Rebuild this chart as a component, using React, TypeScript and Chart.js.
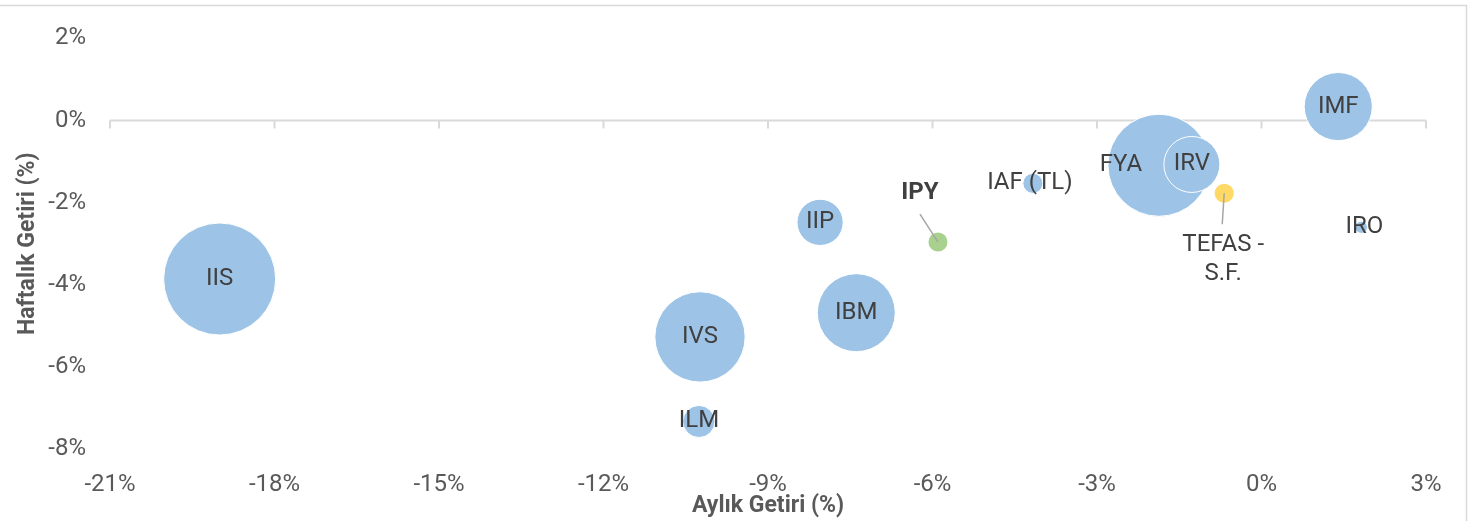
import React, { useEffect, useRef } from "react";
import { Chart, registerables } from "chart.js";

Chart.register(...registerables);

const FONT = "Roboto, 'Liberation Sans', sans-serif";

// Funds (blue bubbles)
const fundNames = ["IIS", "IVS", "ILM", "IBM", "IIP", "IAF (TL)", "FYA", "IRV", "IMF", "IRO"];
const fundMonthly = [-19.0, -10.24, -10.26, -7.39, -8.05, -4.17, -1.87, -1.27, 1.4, 1.82];
const fundWeekly = [-3.86, -5.27, -7.33, -4.68, -2.48, -1.53, -1.09, -1.07, 0.34, -2.6];
const fundSize = [100, 65, 8.2, 48.5, 17, 3.2, 83, 25, 37, 1.2];

// Highlighted fund (green)
const ipyNames = ["IPY"];
const ipyMonthly = [-5.9];
const ipyWeekly = [-2.96];
const ipySize = [2.9];

// Benchmark (yellow)
const benchNames = ["TEFAS - S.F."];
const benchMonthly = [-0.68];
const benchWeekly = [-1.77];
const benchSize = [2.9];

const xMin = -21, xMax = 3, xStep = 3;
const yMin = -8, yMax = 2, yStep = 2;
const xTitle = "Aylık Getiri (%)";
const yTitle = "Haftalık Getiri (%)";

const MAX_SIZE = 100;
const MAX_R = 56;
const radius = (s: number) => MAX_R * Math.sqrt(s / MAX_SIZE);

const toPoints = (xs: number[], ys: number[], ss: number[]) =>
  xs.map((x, i) => ({ x, y: ys[i], r: radius(ss[i]) }));

// label placement styles (offsets in px from bubble centre)
const labelStyle: Record<string, { dx?: number; dy?: number; bold?: boolean; lines?: string[]; leader?: [number, number, number, number] }> = {
  FYA: { dx: -38, dy: 0 },
  IPY: { dx: -18, dy: -49, bold: true, leader: [-18, -28, 0, 0] },
  "TEFAS - S.F.": { dx: -1, dy: 52, lines: ["TEFAS -", "S.F."], leader: [-2, 31, 0, 0] },
  "IAF (TL)": { dx: -3, dy: 0 },
  IRO: { dx: 3, dy: 0 },
};

const frameAndLabels = {
  id: "frameAndLabels",
  beforeDatasetsDraw(chart: any) {
    const { ctx, chartArea, scales } = chart;
    const xs = scales.x, ys = scales.y;
    ctx.save();
    // outer frame
    ctx.strokeStyle = "#D9D9D9";
    ctx.lineWidth = 1.5;
    ctx.beginPath();
    ctx.moveTo(0, 5.5);
    ctx.lineTo(1466.5, 5.5);
    ctx.lineTo(1466.5, chart.height);
    ctx.stroke();
    // horizontal axis line at y = 0
    const y0 = ys.getPixelForValue(0);
    ctx.lineWidth = 2;
    ctx.beginPath();
    ctx.moveTo(chartArea.left, y0);
    ctx.lineTo(chartArea.right, y0);
    for (let v = xMin; v <= xMax; v += xStep) {
      const px = xs.getPixelForValue(v);
      ctx.moveTo(px, y0);
      ctx.lineTo(px, y0 + 8);
    }
    ctx.stroke();
    ctx.restore();
  },
  afterDatasetsDraw(chart: any) {
    const { ctx } = chart;
    ctx.save();
    ctx.textAlign = "center";
    ctx.textBaseline = "middle";
    chart.data.datasets.forEach((ds: any, di: number) => {
      const meta = chart.getDatasetMeta(di);
      meta.data.forEach((el: any, i: number) => {
        const name = ds.names[i];
        const st = labelStyle[name] || {};
        const cx = el.x, cy = el.y;
        if (st.leader) {
          ctx.strokeStyle = "#A6A6A6";
          ctx.lineWidth = 1.5;
          ctx.beginPath();
          ctx.moveTo(cx + st.leader[0], cy + st.leader[1]);
          ctx.lineTo(cx + st.leader[2], cy + st.leader[3]);
          ctx.stroke();
        }
        ctx.fillStyle = "#404040";
        ctx.font = `${st.bold ? "bold " : ""}24px ${FONT}`;
        const lines = st.lines || [name];
        lines.forEach((ln, li) => {
          ctx.fillText(ln, cx + (st.dx || 0), cy + (st.dy || 0) + li * 29);
        });
      });
    });
    ctx.restore();
  },
};

export default function App() {
  const ref = useRef<HTMLCanvasElement | null>(null);
  useEffect(() => {
    if (!ref.current) return;
    const chart = new Chart(ref.current, {
      type: "bubble",
      data: {
        datasets: [
          {
            label: "Fonlar",
            names: fundNames,
            data: toPoints(fundMonthly, fundWeekly, fundSize),
            backgroundColor: "#9DC3E6",
            borderColor: "#FFFFFF",
            borderWidth: 1,
            order: 3,
          } as any,
          {
            label: "IPY",
            names: ipyNames,
            data: toPoints(ipyMonthly, ipyWeekly, ipySize),
            backgroundColor: "#A9D18E",
            borderColor: "#A9D18E",
            borderWidth: 0,
            order: 2,
          } as any,
          {
            label: "TEFAS",
            names: benchNames,
            data: toPoints(benchMonthly, benchWeekly, benchSize),
            backgroundColor: "#FFD966",
            borderColor: "#FFD966",
            borderWidth: 0,
            order: 1,
          } as any,
        ],
      },
      options: {
        responsive: false,
        animation: false,
        devicePixelRatio: 1,
        clip: false as any,
        layout: { autoPadding: false, padding: { left: 0, right: 55, top: 37, bottom: 0 } },
        plugins: {
          legend: { display: false },
          tooltip: { enabled: false },
        },
        scales: {
          x: {
            type: "linear",
            min: xMin,
            max: xMax,
            grid: { display: false, drawTicks: false },
            border: { display: false },
            ticks: {
              stepSize: xStep,
              padding: 22,
              color: "#595959",
              font: { family: FONT, size: 24 },
              callback: (v: any) => `${v}%`,
            },
            title: {
              display: true,
              text: xTitle,
              color: "#595959",
              font: { family: FONT, size: 23, weight: "bold" },
              padding: { top: 0, bottom: 1 },
            },
            afterFit: (s: any) => { s.height = 72; },
          },
          y: {
            type: "linear",
            min: yMin,
            max: yMax,
            grid: { display: false, drawTicks: false },
            border: { display: false },
            ticks: {
              stepSize: yStep,
              padding: 24,
              color: "#595959",
              font: { family: FONT, size: 24 },
              callback: (v: any) => `${v}%`,
            },
            title: {
              display: true,
              text: yTitle,
              color: "#595959",
              font: { family: FONT, size: 23, weight: "bold" },
              padding: { top: 14, bottom: 0 },
            },
            afterFit: (s: any) => { s.width = 110; },
          },
        },
      },
      plugins: [frameAndLabels],
    });
    return () => chart.destroy();
  }, []);
  return (
    <div style={{ position: "fixed", left: 0, top: 0, width: 1481, height: 521, background: "#fff" }}>
      <canvas ref={ref} width={1481} height={521} />
    </div>
  );
}
